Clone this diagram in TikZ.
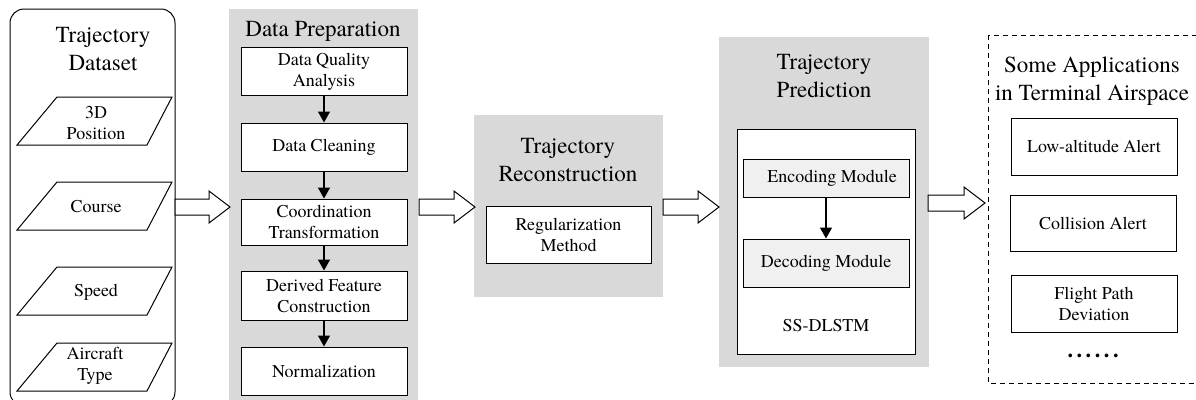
\documentclass[tikz,border=0pt]{standalone}
\usepackage{fontspec}
\setmainfont{texgyretermes-regular.otf}[BoldFont=texgyretermes-bold.otf]
\newfontfamily\timesfont{texgyretermes-regular.otf}[BoldFont=texgyretermes-bold.otf]
\usetikzlibrary{arrows.meta,calc}
\definecolor{panelgray}{RGB}{217,217,217}
\definecolor{modgray}{RGB}{240,240,240}
\tikzset{
  titletext/.style={font=\timesfont\fontsize{23}{28}\selectfont, align=center, inner sep=0pt},
  bodytext/.style={font=\timesfont\fontsize{18}{21}\selectfont, align=center, inner sep=0pt},
  stepbox/.style={draw, fill=white, line width=1pt, minimum width=166pt, minimum height=48pt, bodytext},
  modbox/.style={draw, fill=modgray, line width=1pt, minimum width=166pt, bodytext},
  panel/.style={fill=panelgray, draw=none},
  flowarrow/.style={line width=1.4pt, -{Triangle[length=11pt,width=12pt]}},
  blockarrow/.style={draw, fill=white, line width=1pt, line join=miter},
}
\newcommand\blockarr[4]{% x1, x2, y, name
  \draw[blockarrow] (#1,#3-8) -- (#2-21,#3-8) -- (#2-21,#3-16) -- (#2,#3) coordinate (#4)
    -- (#2-21,#3+16) -- (#2-21,#3+8) -- (#1,#3+8) -- cycle;}
\newcommand\dotsep{\hspace{3.6pt}}
\begin{document}
\begin{tikzpicture}[x=1pt,y=-1pt]
\useasboundingbox (0,0) rectangle (1196,399);

% ---------- Trajectory Dataset ----------
\draw[line width=1pt, rounded corners=14pt] (10,9) rectangle (175,406);
\node[titletext] (dstitle) at (103,49) {Trajectory\\Dataset};
\draw[line width=1pt] (17,145) -- (57,97) -- (172,97) -- (147,145) -- cycle;
\node[bodytext] (p1) at (96,123) {3D\\Position};
\draw[line width=1pt] (17,230) -- (57,182) -- (172,182) -- (147,230) -- cycle;
\node[bodytext] (p2) at (96,207) {Course};
\draw[line width=1pt] (17,315) -- (57,267) -- (172,267) -- (147,315) -- cycle;
\node[bodytext] (p3) at (96,292) {Speed};
\draw[line width=1pt] (17,391) -- (57,343) -- (172,343) -- (147,391) -- cycle;
\node[bodytext] (p4) at (95,366) {Aircraft\\Type};

% ---------- Data Preparation ----------
\fill[panel] (229,9) rectangle (418,402);
\node[titletext] (dptitle) at (323,31) {Data Preparation};
\node[stepbox] (dq) at (324,71.5) {Data Quality\\Analysis};
\node[stepbox] (dc) at (324,147) {Data Cleaning};
\node[stepbox, minimum height=46pt] (ct) at (324,222) {Coordination\\Transformation};
\node[stepbox, minimum height=49pt] (df) at (324,295.5) {Derived Feature\\Construction};
\node[stepbox] (nm) at (324,371) {Normalization};
\draw[flowarrow] (dq) -- (dc);
\draw[flowarrow] (dc) -- (ct);
\draw[flowarrow] (ct) -- (df);
\draw[flowarrow] (df) -- (nm);

% ---------- Trajectory Reconstruction ----------
\fill[panel] (474,115) rectangle (663,297);
\node[titletext] (trtitle) at (568,160) {Trajectory\\Reconstruction};
\node[stepbox, minimum height=57pt, minimum width=165pt] (rm) at (568.5,234.5) {Regularization\\Method};

% ---------- Trajectory Prediction ----------
\fill[panel] (719,37) rectangle (929,367);
\node[titletext] (tptitle) at (824,76) {Trajectory\\Prediction};
\node[draw, fill=white, line width=1pt, minimum width=178pt, minimum height=225pt] (ss) at (826,241.5) {};
\node[modbox, minimum height=38pt] (enc) at (826,178) {\hspace*{12pt}Encoding Module};
\node[modbox, minimum height=48pt] (dec) at (826,263) {Decoding Module};
\draw[flowarrow] (enc) -- (dec);
\node[bodytext] (sslabel) at (826,326) {SS-DLSTM};

% ---------- Applications ----------
\draw[line width=1pt, dashed, dash pattern=on 5pt off 4pt] (988,35) rectangle (1199,383);
\node[titletext] (aptitle) at (1092,81) {Some Applications\\in Terminal Airspace};
\node[stepbox, minimum height=57pt] (la) at (1094,146.5) {Low-altitude Alert};
\node[stepbox, minimum height=56pt] (ca) at (1093,223) {Collision Alert};
\node[stepbox, minimum height=57pt] (fp) at (1094,303.5) {Flight Path\\Deviation};
\node[font=\timesfont\bfseries\fontsize{22}{22}\selectfont, inner sep=0pt] (dots) at (1093,356) {.\dotsep.\dotsep.\dotsep.\dotsep.\dotsep.};

% ---------- block arrows ----------
\blockarr{175}{230}{207}{a1}
\blockarr{419}{475}{207}{a2}
\blockarr{663}{719}{207}{a3}
\blockarr{928}{985}{203}{a4}
\end{tikzpicture}
\end{document}
